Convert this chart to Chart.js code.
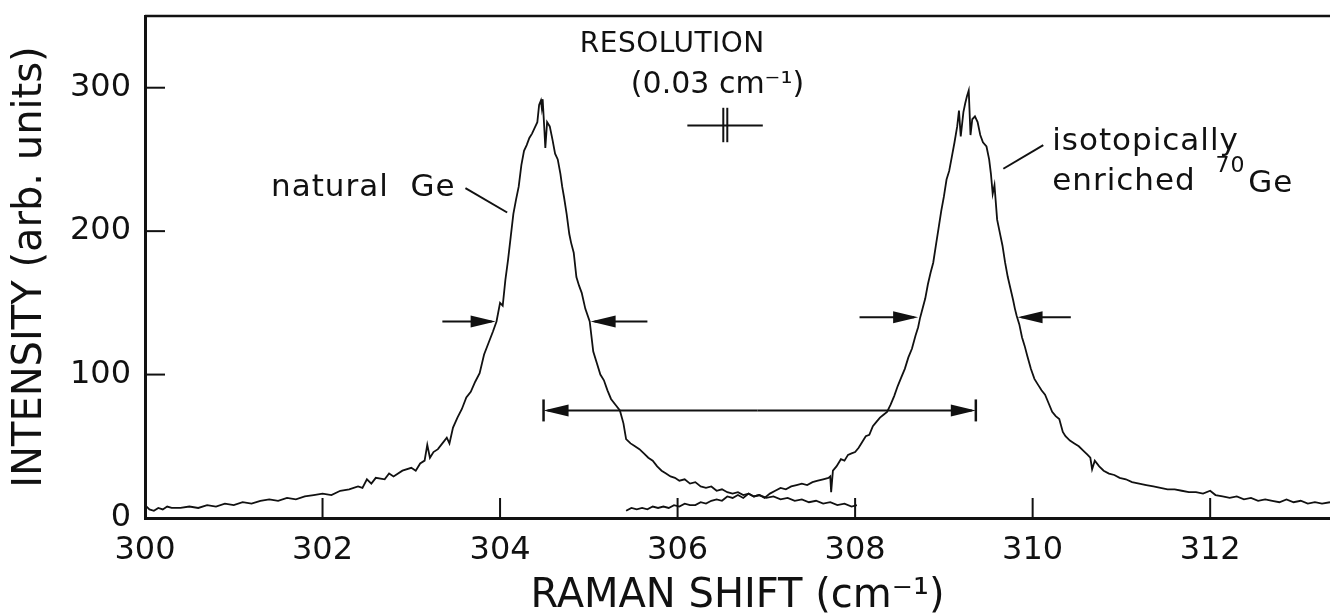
<!DOCTYPE html>
<html>
<head>
<meta charset="utf-8">
<script src="https://cdn.jsdelivr.net/npm/chart.js@4.4.1/dist/chart.umd.min.js"></script>
<style>
  html, body { margin: 0; padding: 0; background: #fff; }
  #wrap { width: 1330px; height: 615px; position: relative; }
</style>
</head>
<body>
<div id="wrap"><canvas id="ramanChart"></canvas></div>
<script>
// natural Ge spectrum (Raman shift in cm-1, intensity in arb. units)
const natShift = [
  300.00, 300.05, 300.10, 300.15, 300.20, 300.25, 300.30, 300.40, 300.50, 300.60,
  300.70, 300.80, 300.90, 301.00, 301.10, 301.20, 301.30, 301.40, 301.50, 301.60,
  301.70, 301.80, 301.90, 302.00, 302.10, 302.20, 302.30, 302.40, 302.45, 302.50,
  302.55, 302.60, 302.70, 302.75, 302.80, 302.90, 303.00, 303.05, 303.10, 303.15,
  303.18, 303.21, 303.25, 303.30, 303.35, 303.40, 303.43, 303.47, 303.52, 303.57,
  303.62, 303.67, 303.72, 303.77, 303.82, 303.87, 303.92, 303.96, 304.00, 304.03,
  304.06, 304.09, 304.12, 304.15, 304.18, 304.21, 304.24, 304.27, 304.30, 304.33,
  304.36, 304.39, 304.42, 304.44, 304.46, 304.47, 304.48, 304.50, 304.51, 304.53,
  304.56, 304.59, 304.62, 304.65, 304.68, 304.70, 304.72, 304.75, 304.78, 304.80,
  304.83, 304.86, 304.89, 304.92, 304.96, 305.01, 305.05, 305.09, 305.13, 305.17,
  305.21, 305.25, 305.30, 305.35, 305.39, 305.42, 305.47, 305.52, 305.57, 305.62,
  305.67, 305.72, 305.77, 305.82, 305.87, 305.92, 305.97, 306.02, 306.08, 306.14,
  306.20, 306.26, 306.32, 306.38, 306.44, 306.50, 306.56, 306.62, 306.68, 306.74,
  306.80, 306.86, 306.92, 307.00, 307.08, 307.16, 307.24, 307.32, 307.40, 307.48,
  307.56, 307.64, 307.72, 307.80, 307.88, 307.96, 308.02
];
const natCounts = [
  9, 6, 5, 7, 6, 8, 7, 7, 8, 7,
  9, 8, 10, 9, 11, 10, 12, 13, 12, 14,
  13, 15, 16, 17, 16, 19, 20, 22, 21, 27,
  24, 28, 27, 31, 29, 33, 35, 33, 38, 40,
  51, 42, 46, 48, 52, 56, 52, 63, 70, 76,
  84, 88, 95, 101, 114, 122, 130, 137, 150, 148,
  166, 180, 196, 212, 222, 231, 246, 256, 260, 265,
  268, 272, 276, 288, 291, 286, 292, 270, 258, 276,
  273, 264, 254, 250, 240, 231, 224, 212, 198, 192,
  185, 168, 162, 157, 146, 137, 116, 108, 100, 96,
  89, 83, 79, 75, 66, 55, 52, 50, 48, 45,
  42, 40, 36, 33, 31, 29, 28, 26, 27, 24,
  25, 22, 21, 22, 19, 20, 18, 17, 18, 16,
  17, 15, 16, 14, 15, 13, 14, 12, 13, 11,
  12, 10, 11, 9, 10, 8, 9
];

// isotopically enriched 70Ge spectrum
const isoShift = [
  305.42, 305.48, 305.54, 305.60, 305.66, 305.72, 305.78, 305.84, 305.90, 305.96,
  306.02, 306.08, 306.14, 306.20, 306.26, 306.32, 306.38, 306.44, 306.50, 306.56,
  306.62, 306.68, 306.74, 306.80, 306.86, 306.92, 306.98, 307.04, 307.10, 307.16,
  307.22, 307.28, 307.34, 307.40, 307.46, 307.52, 307.58, 307.64, 307.70, 307.72,
  307.73, 307.75, 307.79, 307.84, 307.88, 307.92, 307.96, 308.00, 308.04, 308.08,
  308.12, 308.16, 308.20, 308.24, 308.28, 308.32, 308.36, 308.40, 308.44, 308.48,
  308.52, 308.56, 308.60, 308.64, 308.68, 308.71, 308.73, 308.76, 308.79, 308.82,
  308.85, 308.88, 308.91, 308.94, 308.97, 309.00, 309.03, 309.06, 309.09, 309.12,
  309.15, 309.17, 309.19, 309.22, 309.24, 309.26, 309.28, 309.30, 309.32, 309.35,
  309.38, 309.41, 309.44, 309.48, 309.51, 309.53, 309.55, 309.57, 309.60, 309.63,
  309.66, 309.69, 309.72, 309.75, 309.78, 309.80, 309.82, 309.85, 309.88, 309.91,
  309.94, 309.98, 310.02, 310.06, 310.10, 310.14, 310.18, 310.22, 310.26, 310.30,
  310.34, 310.37, 310.42, 310.47, 310.52, 310.57, 310.62, 310.65, 310.67, 310.70,
  310.75, 310.80, 310.86, 310.92, 310.98, 311.05, 311.12, 311.20, 311.28, 311.36,
  311.44, 311.52, 311.60, 311.68, 311.76, 311.84, 311.92, 312.00, 312.06, 312.14,
  312.22, 312.30, 312.38, 312.46, 312.54, 312.62, 312.70, 312.78, 312.86, 312.94,
  313.02, 313.10, 313.18, 313.26, 313.35
];
const isoCounts = [
  5, 7, 6, 7, 6, 8, 7, 8, 7, 9,
  8, 10, 9, 9, 11, 10, 12, 13, 12, 15,
  14, 16, 14, 17, 15, 16, 14, 17, 19, 21,
  20, 22, 23, 24, 23, 25, 26, 27, 28, 29,
  18, 33, 36, 41, 40, 44, 45, 46, 49, 53,
  57, 58, 64, 67, 70, 72, 74, 79, 85, 92,
  98, 104, 112, 118, 127, 133, 139, 146, 153, 163,
  171, 178, 190, 202, 214, 224, 236, 242, 252, 262,
  273, 284, 266, 283, 289, 294, 298, 267, 278, 280,
  276, 267, 262, 259, 250, 240, 226, 232, 208, 199,
  190, 178, 168, 160, 152, 146, 141, 135, 126, 120,
  113, 104, 97, 93, 89, 86, 80, 74, 71, 69,
  60, 57, 54, 52, 50, 47, 44, 42, 34, 40,
  36, 33, 31, 30, 28, 27, 25, 24, 23, 22,
  21, 20, 20, 19, 18, 18, 17, 19, 16, 15,
  14, 15, 13, 14, 12, 13, 12, 11, 13, 11,
  12, 10, 11, 10, 11
];

const xTickLabels = [300, 302, 304, 306, 308, 310, 312];
const yTickLabels = [0, 100, 200, 300];

const INK = '#111';
const FONT = '"DejaVu Sans", sans-serif';

function near(a, b) { return Math.abs(a - b) < 1e-6; }

// ticks point into the plot, as in the original figure
const frameTicks = {
    id: 'frameTicks',
    afterDraw(chart) {
        const { ctx, chartArea, scales } = chart;
        ctx.save();
        ctx.strokeStyle = INK;
        ctx.lineWidth = 2.5;
        // top frame line
        ctx.beginPath();
        ctx.moveTo(chartArea.left, chartArea.top);
        ctx.lineTo(chartArea.right, chartArea.top);
        ctx.stroke();

        ctx.lineWidth = 2;
        scales.x.ticks.forEach(t => {
            if (!near(t.value * 2, Math.round(t.value * 2))) return;
            const px = scales.x.getPixelForValue(t.value);
            const len = near(t.value, Math.round(t.value)) ? 20 : 12;
            ctx.beginPath();
            ctx.moveTo(px, chartArea.bottom);
            ctx.lineTo(px, chartArea.bottom - len);
            ctx.stroke();
        });
        scales.y.ticks.forEach(t => {
            if (t.value % 50 !== 0 || t.value === 0 || t.value >= 350) return;
            const py = scales.y.getPixelForValue(t.value);
            const len = t.value % 100 === 0 ? 20 : 15;
            ctx.beginPath();
            ctx.moveTo(chartArea.left, py);
            ctx.lineTo(chartArea.left + len, py);
            ctx.stroke();
        });
        ctx.restore();
    }
};

// labels, leader lines and width arrows
const figureNotes = {
    id: 'figureNotes',
    afterDraw(chart) {
        const { ctx } = chart;
        const X = v => chart.scales.x.getPixelForValue(v);
        const Y = v => chart.scales.y.getPixelForValue(v);

        function line(x1, y1, x2, y2, w) {
            ctx.lineWidth = w || 2;
            ctx.beginPath();
            ctx.moveTo(X(x1), Y(y1));
            ctx.lineTo(X(x2), Y(y2));
            ctx.stroke();
        }
        function arrow(from, to, val) {
            const x1 = X(from), x2 = X(to), y = Y(val);
            const dir = Math.sign(x2 - x1);
            ctx.lineWidth = 2;
            ctx.beginPath();
            ctx.moveTo(x1, y);
            ctx.lineTo(x2 - dir * 4, y);
            ctx.stroke();
            ctx.beginPath();
            ctx.moveTo(x2, y);
            ctx.lineTo(x2 - dir * 25, y - 6);
            ctx.lineTo(x2 - dir * 25, y + 6);
            ctx.closePath();
            ctx.fill();
        }
        function text(str, x, y, size, align, spacing) {
            ctx.font = size + 'px ' + FONT;
            ctx.letterSpacing = (spacing === undefined ? 1 : spacing) + 'px';
            ctx.textAlign = align || 'center';
            ctx.textBaseline = 'middle';
            ctx.fillText(str, X(x), Y(y));
        }

        ctx.save();
        ctx.strokeStyle = INK;
        ctx.fillStyle = INK;

        // full width at half maximum markers
        arrow(303.35, 303.95, 137);
        arrow(305.66, 305.02, 137);
        arrow(308.05, 308.71, 140);
        arrow(310.43, 309.83, 140);

        // peak separation
        arrow(306.9, 304.49, 75);
        arrow(306.9, 309.36, 75);
        const bar = 11;
        ctx.lineWidth = 2.5;
        [304.49, 309.36].forEach(v => {
            ctx.beginPath();
            ctx.moveTo(X(v), Y(75) - bar);
            ctx.lineTo(X(v), Y(75) + bar);
            ctx.stroke();
        });

        // spectrometer resolution
        line(306.11, 273.6, 306.96, 273.6, 2);
        line(306.515, 286, 306.515, 262, 2);
        line(306.56, 286, 306.56, 262, 2);
        text('RESOLUTION', 305.94, 330, 28, 'center', 0.5);
        text('(0.03 cm\u207B\u00B9)', 306.45, 302, 30, 'center', 0);

        // curve labels
        text('natural  Ge', 302.46, 230, 31);
        line(303.61, 230, 304.08, 213, 2);
        text('isotopically', 310.22, 262, 31, 'left');
        text('enriched', 310.22, 234, 31, 'left');
        text('70', 312.06, 245, 22, 'left');
        text('Ge', 312.43, 233, 31, 'left');
        line(309.67, 243.5, 310.12, 260, 2);

        ctx.restore();
    }
};

const ctx = document.getElementById('ramanChart').getContext('2d');
new Chart(ctx, {
    type: 'scatter',
    data: {
        datasets: [
            {
                label: 'natural Ge',
                data: natShift.map((x, i) => ({ x: x, y: natCounts[i] })),
                showLine: true,
                borderColor: INK,
                borderWidth: 1.8,
                pointRadius: 0,
                tension: 0
            },
            {
                label: 'isotopically enriched 70Ge',
                data: isoShift.map((x, i) => ({ x: x, y: isoCounts[i] })),
                showLine: true,
                borderColor: INK,
                borderWidth: 1.8,
                pointRadius: 0,
                tension: 0
            }
        ]
    },
    options: {
        responsive: true,
        maintainAspectRatio: false,
        animation: false,
        layout: { padding: { top: 16, right: 0, left: 0, bottom: 0 } },
        plugins: {
            legend: { display: false },
            tooltip: { enabled: false }
        },
        scales: {
            x: {
                type: 'linear',
                min: 300,
                max: 313.35,
                grid: { display: false, drawTicks: false },
                border: { display: true, color: INK, width: 3 },
                ticks: {
                    stepSize: 0.5,
                    autoSkip: false,
                    maxRotation: 0,
                    padding: 13,
                    color: INK,
                    font: { family: FONT, size: 32 },
                    callback: v => xTickLabels.some(l => near(l, v)) ? String(Math.round(v)) : null
                },
                title: {
                    display: true,
                    text: 'RAMAN SHIFT (cm\u207B\u00B9)',
                    color: INK,
                    font: { family: FONT, size: 40, lineHeight: 0.9 },
                    padding: { top: 0, bottom: 0 }
                },
                afterFit: s => {
                    s.height = 97;
                    s.paddingLeft = 0;
                    s.paddingRight = 0;
                }
            },
            y: {
                min: 0,
                max: 350,
                grid: { display: false, drawTicks: false },
                border: { display: true, color: INK, width: 3 },
                ticks: {
                    stepSize: 50,
                    padding: 14,
                    color: INK,
                    font: { family: FONT, size: 32 },
                    callback: v => yTickLabels.includes(v) ? String(v) : null
                },
                title: {
                    display: true,
                    text: 'INTENSITY (arb. units)',
                    color: INK,
                    font: { family: FONT, size: 40 },
                    padding: { top: 7, bottom: 0 }
                },
                afterFit: s => {
                    s.width = 145;
                    s.paddingTop = 0;
                    s.paddingBottom = 0;
                }
            }
        }
    },
    plugins: [frameTicks, figureNotes]
});
</script>
</body>
</html>
